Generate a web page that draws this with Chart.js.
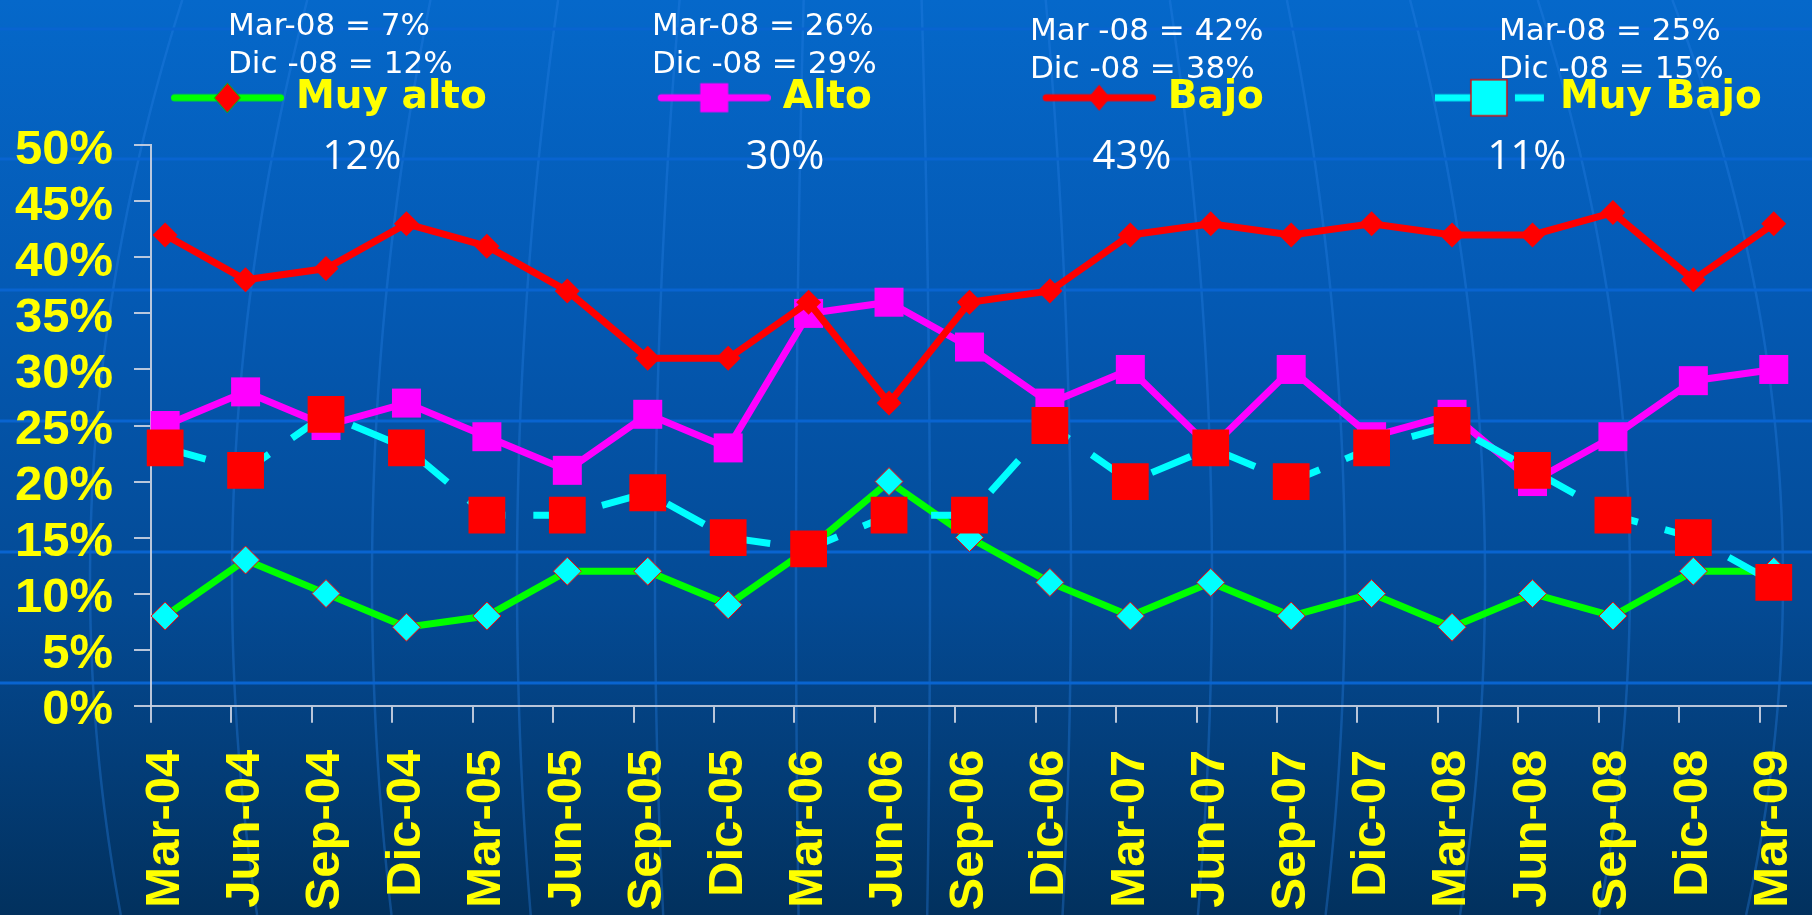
<!DOCTYPE html>
<html>
<head>
<meta charset="utf-8">
<script src="https://cdn.jsdelivr.net/npm/chart.js"></script>
<style>
  html, body { margin: 0; padding: 0; }
  body {
    width: 1812px; height: 915px; overflow: hidden;
    background: linear-gradient(to bottom, #0568ca 0%, #0459b3 33%, #044a94 66%, #02315e 100%);
  }
  canvas { display: block; }
</style>
</head>
<body>
<canvas id="canvas" width="1812" height="915"></canvas>
<script>
//////////////////////// datos ////////////////////////
var categories = ['Mar-04', 'Jun-04', 'Sep-04', 'Dic-04', 'Mar-05', 'Jun-05', 'Sep-05', 'Dic-05',
                  'Mar-06', 'Jun-06', 'Sep-06', 'Dic-06', 'Mar-07', 'Jun-07', 'Sep-07', 'Dic-07',
                  'Mar-08', 'Jun-08', 'Sep-08', 'Dic-08', 'Mar-09'];
var seriesNames = ['Muy alto', 'Alto', 'Bajo', 'Muy Bajo'];
var muyAlto = [8, 13, 10, 7, 8, 12, 12, 9, 14, 20, 15, 11, 8, 11, 8, 10, 7, 10, 8, 12, 12];
var alto    = [25, 28, 25, 27, 24, 21, 26, 23, 35, 36, 32, 27, 30, 23, 30, 24, 26, 20, 24, 29, 30];
var bajo    = [42, 38, 39, 43, 41, 37, 31, 31, 36, 27, 36, 37, 42, 43, 42, 43, 42, 42, 44, 38, 43];
var muyBajo = [23, 21, 26, 23, 17, 17, 19, 15, 14, 17, 17, 25, 20, 23, 20, 23, 25, 21, 17, 15, 11];
var noteMar = ['Mar-08 = ', 'Mar-08 = ', 'Mar -08 = ', 'Mar-08 = '];
var noteDic = ['Dic -08 = ', 'Dic -08 = ', 'Dic -08 = ', 'Dic -08 = '];

var axisColor = 'rgba(205,212,226,0.9)';
var yellow = '#ffff00';
var tickFont = {family: '"Liberation Sans", Arial, sans-serif', weight: 'bold', size: 49};

function toPoints(arr){
    return arr.map(function(v, i){ return {x: i, y: v}; });
}

//////////////////////// leyenda ////////////////////////
// la marca va a la derecha de la imagen, el hueco transparente hace de separacion
var MARK_W = 284;
function legendMark(kind){
    var c = document.createElement('canvas');
    c.width = MARK_W; c.height = 40;
    var g = c.getContext('2d');
    var x0 = MARK_W - 113, x1 = MARK_W, cy = 20, cx = (x0 + x1) / 2;
    g.lineWidth = 7;
    if (kind === 3) {
        g.strokeStyle = '#00ffff';
        g.beginPath(); g.moveTo(x0, cy); g.lineTo(x0 + 36, cy); g.stroke();
        g.beginPath(); g.moveTo(x0 + 80, cy); g.lineTo(x0 + 109, cy); g.stroke();
        g.fillStyle = '#00ffff';
        g.fillRect(x0 + 36, cy - 18, 36, 36);
        g.lineWidth = 1.5; g.strokeStyle = '#d01010';
        g.strokeRect(x0 + 36, cy - 18, 36, 36);
        return c;
    }
    var col = ['#00ff00', '#ff00ff', '#ff0000'][kind];
    g.strokeStyle = col; g.lineCap = 'round';
    g.beginPath(); g.moveTo(x0 + 3.5, cy); g.lineTo(x1 - 3.5, cy); g.stroke();
    if (kind === 1) {
        g.fillStyle = col;
        g.fillRect(cx - 14, cy - 14.5, 28, 29);
    } else {
        var hw = kind === 0 ? 13 : 11, hh = kind === 0 ? 14.7 : 13;
        g.beginPath();
        g.moveTo(cx - hw, cy); g.lineTo(cx, cy - hh); g.lineTo(cx + hw, cy); g.lineTo(cx, cy + hh);
        g.closePath();
        g.fillStyle = '#ff0000'; g.fill();
        if (kind === 0) { g.lineWidth = 1; g.strokeStyle = '#00c000'; g.stroke(); }
    }
    return c;
}
var marks = [legendMark(0), legendMark(1), legendMark(2), legendMark(3)];

//////////////////////// fondo y textos ////////////////////////
var backdrop = {
    id: 'backdrop',
    beforeDraw: function(chart){
        var ctx = chart.ctx;
        ctx.save();
        ctx.strokeStyle = 'rgba(40,128,228,0.35)';
        ctx.lineWidth = 2.5;
        [90, 232, 372, 517, 655, 796, 930, 1071, 1212, 1345, 1485, 1630, 1783].forEach(function(xm){
            ctx.beginPath();
            for (var y = 0; y <= 915; y += 15) {
                var t = (y - 580) / 400;
                var x = xm - 0.057 * (xm - 860) * t * t;
                if (y === 0) ctx.moveTo(x, y); else ctx.lineTo(x, y);
            }
            ctx.stroke();
        });
        ctx.strokeStyle = '#0964d0';
        ctx.lineWidth = 3;
        [29, 159, 290, 421, 552, 683].forEach(function(y){
            ctx.beginPath(); ctx.moveTo(0, y); ctx.lineTo(chart.width, y); ctx.stroke();
        });
        ctx.restore();
    }
};

var notes = {
    id: 'notes',
    afterDraw: function(chart){
        var ctx = chart.ctx;
        var all = [muyAlto, alto, bajo, muyBajo];
        var left = [228, 652, 1030, 1499];
        var top = [35, 35, 40, 40];
        var mid = [362, 785, 1132, 1527];
        ctx.save();
        ctx.fillStyle = '#ffffff';
        ctx.textBaseline = 'alphabetic';
        for (var k = 0; k < 4; k++) {
            var s = all[k];
            ctx.font = '31px "DejaVu Sans", sans-serif';
            ctx.textAlign = 'left';
            ctx.fillText(noteMar[k] + s[16] + '%', left[k], top[k]);
            ctx.fillText(noteDic[k] + s[19] + '%', left[k], top[k] + 38.3);
            ctx.font = '40px "Open Sans", sans-serif';
            ctx.textAlign = 'center';
            ctx.fillText(s[20] + '%', mid[k], 169.3);
        }
        ctx.restore();
    }
};

//////////////////////// grafico ////////////////////////
var chartData = {
    datasets: [
    {
        label: seriesNames[0],
        data: toPoints(muyAlto),
        borderColor: '#00ff00',
        borderWidth: 7,
        pointStyle: 'rectRot',
        pointRadius: 14,
        pointBackgroundColor: '#00ffff',
        pointBorderColor: '#ff0000',
        pointBorderWidth: 1,
        clip: false,
        order: 4
    },
    {
        label: seriesNames[1],
        data: toPoints(alto),
        borderColor: '#ff00ff',
        borderWidth: 7,
        pointStyle: 'rect',
        pointRadius: 20.5,
        pointBackgroundColor: '#ff00ff',
        pointBorderWidth: 0,
        clip: false,
        order: 3
    },
    {
        label: seriesNames[2],
        data: toPoints(bajo),
        borderColor: '#ff0000',
        borderWidth: 7,
        pointStyle: 'rectRot',
        pointRadius: 12.5,
        pointBackgroundColor: '#ff0000',
        pointBorderWidth: 0,
        clip: false,
        order: 2
    },
    {
        label: seriesNames[3],
        data: toPoints(muyBajo),
        borderColor: '#00ffff',
        borderWidth: 7,
        borderDash: [42, 28],
        pointStyle: 'rect',
        pointRadius: 26,
        pointBackgroundColor: '#ff0000',
        pointBorderWidth: 0,
        clip: false,
        order: 1
    }
    ]
};

var ctx = document.getElementById('canvas').getContext('2d');
window.myChart = new Chart(ctx, {
    type: 'line',
    data: chartData,
    plugins: [backdrop, notes],
    options: {
        responsive: false,
        maintainAspectRatio: false,
        devicePixelRatio: 1,
        animation: false,
        events: [],
        layout: { padding: { top: 70.7, right: 11, bottom: 0, left: 0 } },
        plugins: {
            tooltip: { enabled: false },
            title: { display: true, text: '', weight: 500, padding: 0, font: { size: 18.1, lineHeight: 1 } },
            legend: {
                position: 'top',
                align: 'start',
                labels: {
                    usePointStyle: true,
                    pointStyleWidth: MARK_W - 15,
                    padding: 7.5,
                    color: yellow,
                    font: { family: '"DejaVu Sans", sans-serif', weight: 'bold', size: 39 },
                    generateLabels: function(chart){
                        return chart.data.datasets.map(function(ds, i){
                            return {
                                text: ds.label,
                                fillStyle: 'rgba(0,0,0,0)',
                                strokeStyle: 'rgba(0,0,0,0)',
                                lineWidth: 0,
                                pointStyle: marks[i],
                                hidden: false,
                                datasetIndex: i,
                                fontColor: yellow
                            };
                        });
                    }
                }
            }
        },
        scales: {
            x: {
                type: 'linear',
                min: -0.176,
                max: 20.152,
                bounds: 'data',
                afterBuildTicks: function(axis){
                    axis.ticks = categories.map(function(c, i){ return {value: i - 0.176}; });
                },
                afterFit: function(axis){
                    axis.height = 209.3;
                    axis.paddingLeft = 0;
                    axis.paddingRight = 0;
                },
                ticks: {
                    autoSkip: false,
                    minRotation: 90,
                    maxRotation: 90,
                    padding: 27,
                    labelOffset: 14,
                    color: yellow,
                    font: tickFont,
                    callback: function(v, i){ return categories[i]; }
                },
                grid: { drawOnChartArea: false, drawTicks: true, tickLength: 17, color: axisColor, lineWidth: 2 },
                border: { display: true, color: axisColor, width: 2 }
            },
            y: {
                min: 0,
                max: 50,
                afterFit: function(axis){
                    axis.width = 151;
                    axis.paddingTop = 0;
                    axis.paddingBottom = 0;
                },
                ticks: {
                    stepSize: 5,
                    autoSkip: false,
                    padding: 21,
                    labelOffset: 5,
                    color: yellow,
                    font: tickFont,
                    callback: function(v){ return v + '%'; }
                },
                grid: { drawOnChartArea: false, drawTicks: true, tickLength: 17, color: axisColor, lineWidth: 2 },
                border: { display: true, color: axisColor, width: 2 }
            }
        }
    }
});
</script>
</body>
</html>
